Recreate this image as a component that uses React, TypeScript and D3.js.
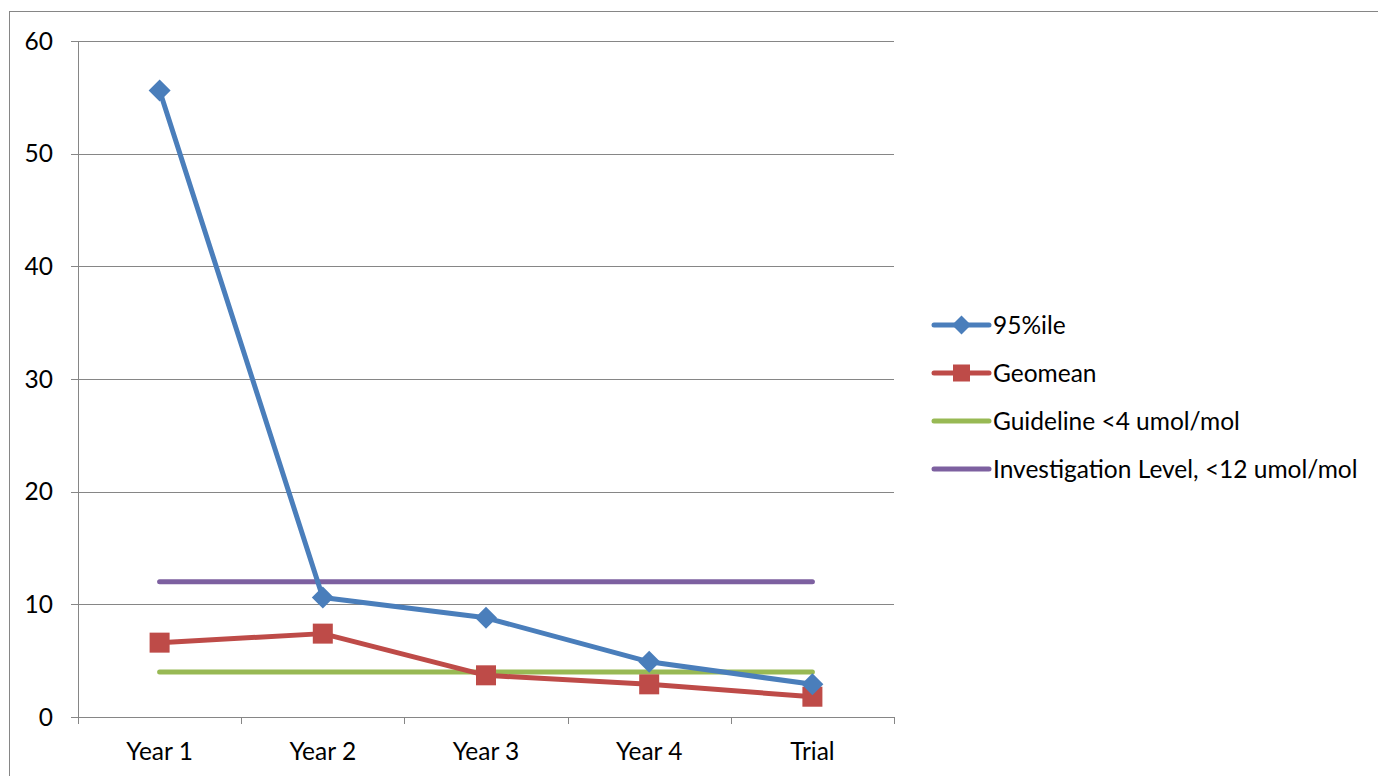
import React from "react";
import * as d3 from "d3";

const categories = ["Year 1", "Year 2", "Year 3", "Year 4", "Trial"];
const p95 = [55.6, 10.6, 8.8, 4.9, 2.9];
const geomean = [6.6, 7.4, 3.7, 2.9, 1.8];
const guideline = [4, 4, 4, 4, 4];
const investigation = [12, 12, 12, 12, 12];
const yTicks = [0, 10, 20, 30, 40, 50, 60];

const seriesNames = ["95%ile", "Geomean", "Guideline <4 umol/mol", "Investigation Level, <12 umol/mol"];
const seriesColors = ["#4A7EBB", "#BE4B48", "#98B954", "#7D60A0"];
const seriesMarkers = ["diamond", "square", "none", "none"];
const seriesData = [p95, geomean, guideline, investigation];

const W = 1378, H = 776;
const FONT = "Lato, 'Open Sans', sans-serif";
const FS = 24.5;

function Marker({ kind, x, y, color, size }: { kind: string; x: number; y: number; color: string; size: number }) {
  if (kind === "diamond") {
    const r = size / 2 + 1;
    return <path d={`M${x},${y - r}L${x + r},${y}L${x},${y + r}L${x - r},${y}Z`} fill={color} />;
  }
  if (kind === "square") {
    const r = size / 2;
    return <rect x={x - r} y={y - r} width={size} height={size} fill={color} />;
  }
  return null;
}

export default function App() {
  const left = 78, right = 894, top = 41, bottom = 717;
  const x = d3.scaleBand<string>().domain(categories).range([left, right]);
  const y = d3.scaleLinear().domain([0, 60]).range([bottom, top]);
  const cx = (c: string) => (x(c) as number) + x.bandwidth() / 2;
  const line = d3.line<number>().x((_, i) => cx(categories[i])).y((v) => y(v));
  const grid = "#868686";
  const boundaries = categories.map((c) => x(c) as number).concat([right]);

  const legendX1 = 934, legendX2 = 989, legendText = 993;
  const legendY = [325, 373, 421, 469];

  return (
    <svg width={W} height={H} style={{ position: "absolute", left: 0, top: 0, background: "#fff" }} fontFamily={FONT}>
      <rect x={9.5} y={11.5} width={W + 10} height={H + 10} fill="none" stroke={grid} strokeWidth={1} />
      {yTicks.map((t) => (
        <g key={t}>
          <line x1={left - 7} x2={right} y1={Math.round(y(t)) + 0.5} y2={Math.round(y(t)) + 0.5} stroke={grid} strokeWidth={1} />
          <text x={53} y={y(t) + 8.5} textAnchor="end" fontSize={FS} fill="#000">{t}</text>
        </g>
      ))}
      <line x1={left + 0.5} x2={left + 0.5} y1={top} y2={bottom} stroke={grid} strokeWidth={1} />
      {boundaries.map((b, i) => (
        <line key={i} x1={Math.round(b) + 0.5} x2={Math.round(b) + 0.5} y1={bottom} y2={bottom + 7} stroke={grid} strokeWidth={1} />
      ))}
      {categories.map((c) => (
        <text key={c} x={cx(c)} y={760} textAnchor="middle" fontSize={FS} fill="#000">{c}</text>
      ))}
      {[3, 2, 1, 0].map((si) => (
        <g key={si}>
          <path d={line(seriesData[si]) as string} fill="none" stroke={seriesColors[si]} strokeWidth={5} strokeLinecap="round" strokeLinejoin="round" />
          {seriesData[si].map((v, i) => (
            <Marker key={i} kind={seriesMarkers[si]} x={cx(categories[i])} y={y(v)} color={seriesColors[si]} size={20} />
          ))}
        </g>
      ))}
      {seriesNames.map((n, i) => (
        <g key={n}>
          <line x1={legendX1} x2={legendX2} y1={legendY[i]} y2={legendY[i]} stroke={seriesColors[i]} strokeWidth={5} strokeLinecap="round" />
          <Marker kind={seriesMarkers[i]} x={(legendX1 + legendX2) / 2} y={legendY[i]} color={seriesColors[i]} size={17} />
          <text x={legendText} y={legendY[i] + 8.5} fontSize={FS} fill="#000">{n}</text>
        </g>
      ))}
    </svg>
  );
}
